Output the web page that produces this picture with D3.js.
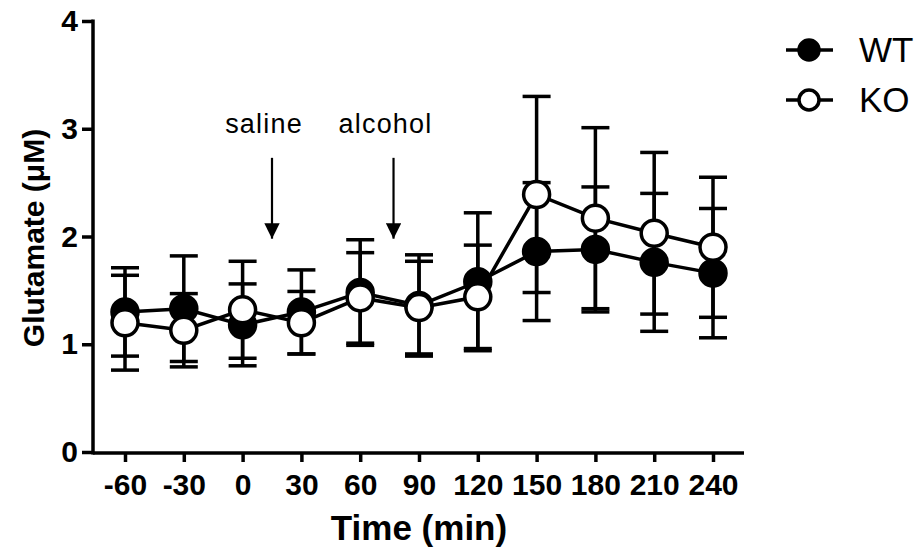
<!DOCTYPE html>
<html>
<head>
<meta charset="utf-8">
<script src="https://cdn.jsdelivr.net/npm/d3@7"></script>
<style>
  body { margin: 0; background: #fff; }
  svg { display: block; font-family: "Liberation Sans", Arial, sans-serif; }
</style>
</head>
<body>
<svg id="chart" width="923" height="556"></svg>
<script>
var TIMES = [-60, -30, 0, 30, 60, 90, 120, 150, 180, 210, 240];

var WT_MEAN = [1.30, 1.33, 1.18, 1.30, 1.48, 1.36, 1.58, 1.86, 1.88, 1.76, 1.66];
var WT_SEM = [0.41, 0.49, 0.38, 0.39, 0.49, 0.47, 0.64, 0.64, 0.58, 0.64, 0.60];

var KO_MEAN = [1.20, 1.13, 1.32, 1.20, 1.43, 1.34, 1.44, 2.39, 2.17, 2.03, 1.90];
var KO_SEM = [0.44, 0.34, 0.45, 0.29, 0.42, 0.43, 0.48, 0.91, 0.84, 0.75, 0.65];

var Y_TICKS = [0, 1, 2, 3, 4];

var EVENTS = [
  {label: 'saline', time: 15},
  {label: 'alcohol', time: 77}
];

var svg = d3.select('#chart');

var x = d3.scaleLinear().domain([-60, 240]).range([125, 713]);
var y = d3.scaleLinear().domain([0, 4]).range([452, 21]);

var AXIS_X = 93;
var AXIS_Y = 453;
var CAP = 14;
var RADIUS = 13;

/**
 * Axes, drawn by hand to match the prism look (heavy lines, bold labels).
 */
var yAxis = svg.append('g')
    .attr('transform', 'translate(' + AXIS_X + ',0)')
    .call(d3.axisLeft(y).tickValues(Y_TICKS).tickSize(11).tickPadding(4)
        .tickFormat(String));
yAxis.select('.domain').remove();
yAxis.append('line')
    .attr('x1', 0).attr('x2', 0)
    .attr('y1', y(4) - 1.5).attr('y2', AXIS_Y + 1.5)
    .attr('stroke', '#000').attr('stroke-width', 3.5);
yAxis.selectAll('.tick line').attr('stroke-width', 3.5);
yAxis.selectAll('.tick text')
    .attr('fill', '#000')
    .style('font-size', '30px')
    .style('font-weight', 'bold');

var xAxis = svg.append('g')
    .attr('transform', 'translate(0,' + AXIS_Y + ')')
    .call(d3.axisBottom(x).tickValues(TIMES).tickSize(9).tickPadding(12)
        .tickFormat(String));
xAxis.select('.domain').remove();
xAxis.append('line')
    .attr('x1', AXIS_X).attr('x2', 744)
    .attr('y1', 0).attr('y2', 0)
    .attr('stroke', '#000').attr('stroke-width', 3.5);
xAxis.selectAll('.tick line').attr('stroke-width', 3.5);
xAxis.selectAll('.tick text')
    .attr('fill', '#000')
    .style('font-size', '30px')
    .style('font-weight', 'bold');

svg.append('text')
    .attr('x', 419)
    .attr('y', 540)
    .attr('text-anchor', 'middle')
    .style('font-size', '35px')
    .style('font-weight', 'bold')
    .text('Time (min)');

svg.append('text')
    .attr('transform', 'translate(44,238) rotate(-90)')
    .attr('text-anchor', 'middle')
    .style('font-size', '30px')
    .style('font-weight', 'bold')
    .text('Glutamate (\u03bcM)');

/**
 * Treatment arrows with their labels.
 */
svg.append('defs').append('marker')
    .attr('id', 'head')
    .attr('viewBox', '0 0 10 10')
    .attr('refX', 10).attr('refY', 5)
    .attr('markerWidth', 7).attr('markerHeight', 7)
    .attr('markerUnits', 'strokeWidth')
    .attr('orient', 'auto')
  .append('path')
    .attr('d', 'M0,0L10,5L0,10z')
    .attr('fill', '#000');

var events = svg.selectAll('.event').data(EVENTS).enter()
  .append('g').classed('event', true);
events.append('line')
    .attr('x1', function(d) { return x(d.time); })
    .attr('x2', function(d) { return x(d.time); })
    .attr('y1', y(2.73))
    .attr('y2', y(1.98))
    .attr('stroke', '#000')
    .attr('stroke-width', 2.2)
    .attr('marker-end', 'url(#head)');
events.append('text')
    .attr('x', function(d) { return x(d.time) - 8; })
    .attr('y', y(2.96))
    .attr('text-anchor', 'middle')
    .style('font-size', '27px')
    .style('letter-spacing', '1.2px')
    .text(function(d) { return d.label; });

/**
 * One series: error bars, connecting line and markers.
 */
function drawSeries(means, sems, fill) {
  var rows = TIMES.map(function(t, i) {
    return {time: t, mean: means[i], sem: sems[i]};
  });
  var g = svg.append('g');

  var bars = g.selectAll('.err').data(rows).enter().append('g')
      .classed('err', true)
      .attr('stroke', '#000')
      .attr('stroke-width', 3.5);
  bars.append('line')
      .attr('x1', function(d) { return x(d.time); })
      .attr('x2', function(d) { return x(d.time); })
      .attr('y1', function(d) { return y(d.mean + d.sem); })
      .attr('y2', function(d) { return y(d.mean - d.sem); });
  [1, -1].forEach(function(sign) {
    bars.append('line')
        .attr('x1', function(d) { return x(d.time) - CAP; })
        .attr('x2', function(d) { return x(d.time) + CAP; })
        .attr('y1', function(d) { return y(d.mean + sign * d.sem); })
        .attr('y2', function(d) { return y(d.mean + sign * d.sem); });
  });

  g.append('path')
      .datum(rows)
      .attr('fill', 'none')
      .attr('stroke', '#000')
      .attr('stroke-width', 3.5)
      .attr('d', d3.line()
          .x(function(d) { return x(d.time); })
          .y(function(d) { return y(d.mean); }));

  g.selectAll('circle').data(rows).enter().append('circle')
      .attr('cx', function(d) { return x(d.time); })
      .attr('cy', function(d) { return y(d.mean); })
      .attr('r', RADIUS)
      .attr('fill', fill)
      .attr('stroke', '#000')
      .attr('stroke-width', 3.5);
}

drawSeries(WT_MEAN, WT_SEM, '#000');
drawSeries(KO_MEAN, KO_SEM, '#fff');

/**
 * Legend.
 */
var legend = svg.append('g').selectAll('g')
    .data([{name: 'WT', fill: '#000'}, {name: 'KO', fill: '#fff'}])
    .enter().append('g')
    .attr('transform', function(d, i) { return 'translate(0,' + (50 + i * 50) + ')'; });
legend.append('line')
    .attr('x1', 786).attr('x2', 833)
    .attr('stroke', '#000').attr('stroke-width', 3.5);
legend.append('circle')
    .attr('cx', 809).attr('r', 10)
    .attr('fill', function(d) { return d.fill; })
    .attr('stroke', '#000').attr('stroke-width', 3.5);
legend.append('text')
    .attr('x', 859).attr('y', 12)
    .style('font-size', '35px')
    .text(function(d) { return d.name; });
</script>
</body>
</html>
